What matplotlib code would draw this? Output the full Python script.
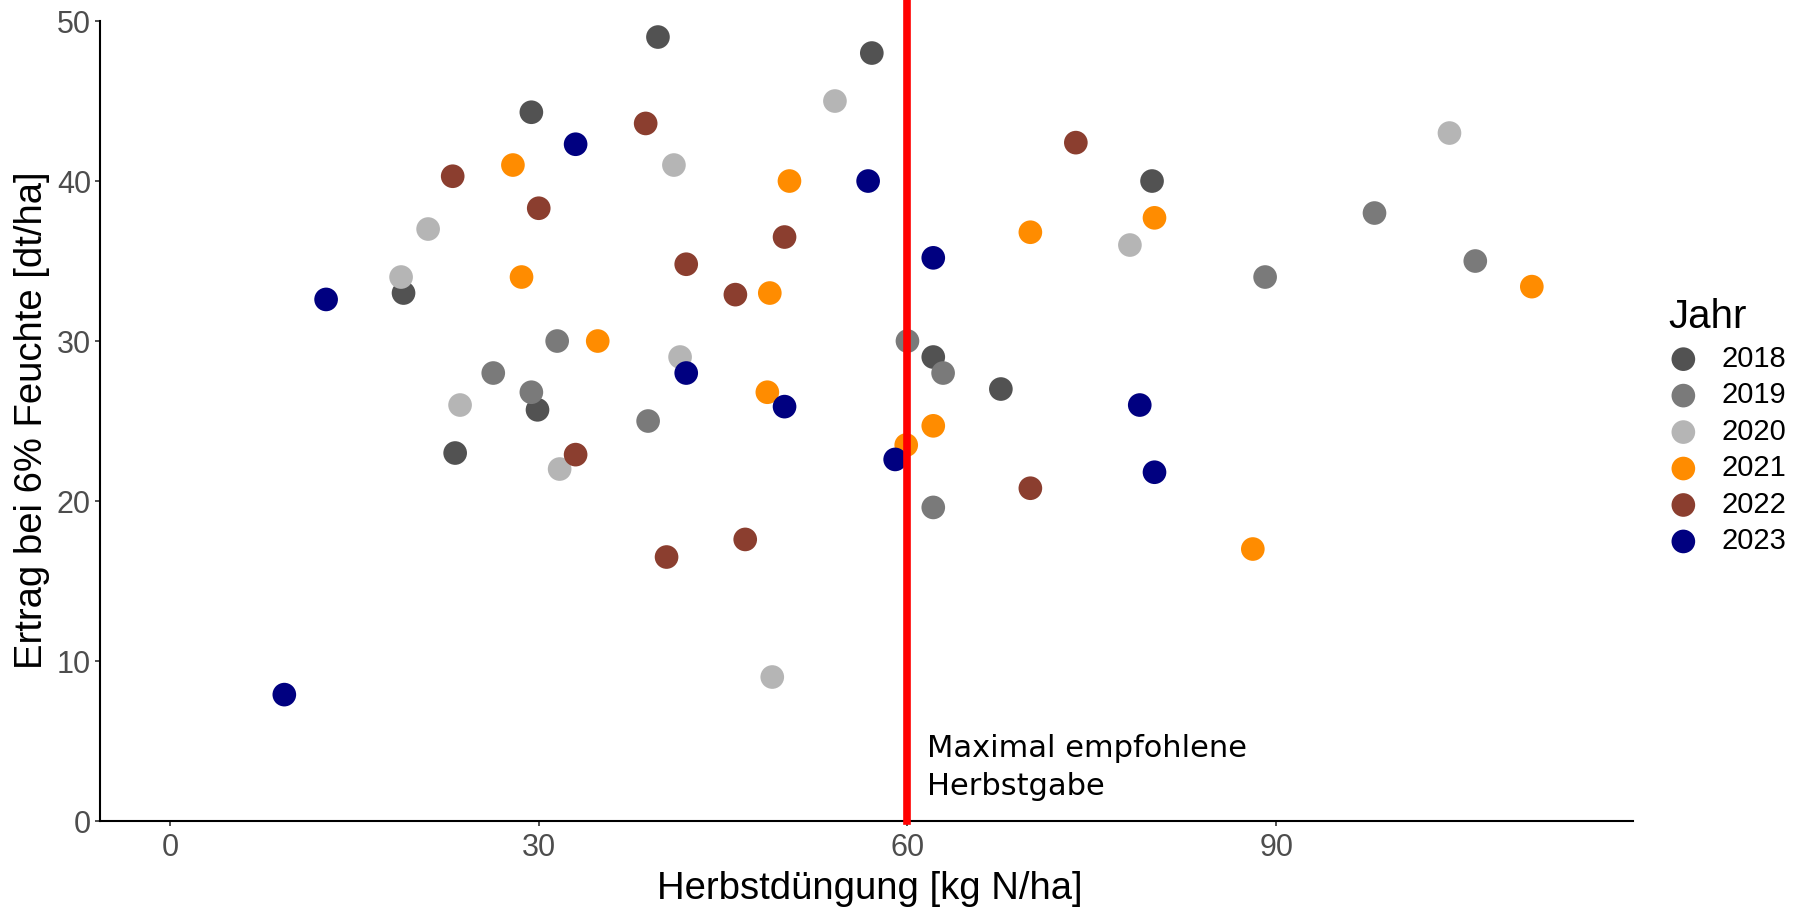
import matplotlib.pyplot as plt

# Herbstdüngung (kg N/ha) und Ertrag (dt/ha) je Standort, nach Jahr
jahre = ["2018", "2019", "2020", "2021", "2022", "2023"]
farben = ["#525252", "#7a7a7a", "#b5b5b5", "#ff8c00", "#8b3e2f", "#000080"]

n_2018 = [39.7, 57.1, 29.4, 79.9, 19.0, 29.9, 23.2, 62.1, 67.6]
e_2018 = [49.0, 48.0, 44.3, 40.0, 33.0, 25.7, 23.0, 29.0, 27.0]

n_2019 = [31.5, 26.3, 29.4, 38.9, 60.0, 62.9, 62.1, 98.0, 89.1, 106.2]
e_2019 = [30.0, 28.0, 26.8, 25.0, 30.0, 28.0, 19.6, 38.0, 34.0, 35.0]

n_2020 = [54.1, 41.0, 21.0, 18.8, 23.6, 41.5, 31.7, 49.0, 78.1, 104.1]
e_2020 = [45.0, 41.0, 37.0, 34.0, 26.0, 29.0, 22.0, 9.0, 36.0, 43.0]

n_2021 = [27.9, 50.4, 28.6, 34.8, 48.8, 48.6, 59.9, 62.1, 70.0, 80.1, 88.1, 110.8]
e_2021 = [41.0, 40.0, 34.0, 30.0, 33.0, 26.8, 23.5, 24.7, 36.8, 37.7, 17.0, 33.4]

n_2022 = [23.0, 38.7, 30.0, 42.0, 50.0, 46.0, 33.0, 40.4, 46.8, 73.7, 70.0]
e_2022 = [40.3, 43.6, 38.3, 34.8, 36.5, 32.9, 22.9, 16.5, 17.6, 42.4, 20.8]

n_2023 = [9.3, 12.7, 33.0, 56.8, 42.0, 50.0, 59.0, 62.1, 78.9, 80.1]
e_2023 = [7.9, 32.6, 42.3, 40.0, 28.0, 25.9, 22.6, 35.2, 26.0, 21.8]

n_werte = [n_2018, n_2019, n_2020, n_2021, n_2022, n_2023]
e_werte = [e_2018, e_2019, e_2020, e_2021, e_2022, e_2023]

max_herbstgabe = 60
x_ticks = [0, 30, 60, 90]
y_ticks = [0, 10, 20, 30, 40, 50]

plt.rcParams['font.family'] = ['Liberation Sans', 'DejaVu Sans']

fig = plt.figure(figsize=(18.01, 9.07), dpi=100)
ax = fig.add_axes([0.0555, 0.0948, 0.851, 0.882])

for jahr, farbe, xs, ys in zip(jahre, farben, n_werte, e_werte):
    ax.scatter(xs, ys, s=290, color=farbe, edgecolors='none', label=jahr, zorder=3)

# rote Linie reicht bis zum oberen Bildrand
ax.axvline(max_herbstgabe, ymin=0, ymax=1.03, color='#ff0000', linewidth=5.5,
           zorder=4, clip_on=False)
ax.text(max_herbstgabe + 1.55, 1.65, "Maximal empfohlene\nHerbstgabe",
        fontsize=22, family=['DejaVu Sans'], ha='left', va='baseline',
        linespacing=1.36, color='black', zorder=5)

ax.set_xlim(-5.7, 119)
ax.set_ylim(0, 50)
ax.set_xticks(x_ticks)
ax.set_yticks(y_ticks)
ax.tick_params(axis='both', labelsize=22, labelcolor='#4d4d4d', color='#333333',
               length=3.5, width=1.2)
ax.tick_params(axis='x', pad=5)
ax.tick_params(axis='y', pad=3)

for side in ['top', 'right']:
    ax.spines[side].set_visible(False)
for side in ['left', 'bottom']:
    ax.spines[side].set_linewidth(1.5)
    ax.spines[side].set_color('black')

fig.text(0.483, 1 - 899 / 907, "Herbstdüngung [kg N/ha]", fontsize=27.5,
         ha='center', va='baseline')
fig.text(42 / 1801, 0.5364, "Ertrag bei 6% Feuchte [dt/ha]", fontsize=27.5,
         rotation=90, rotation_mode='anchor', ha='center', va='baseline')

leg = fig.legend(loc='upper left', bbox_to_anchor=(0.912, 0.70), frameon=False,
                 title="Jahr", title_fontsize=29, fontsize=21,
                 handletextpad=0.8, labelspacing=0.29, markerscale=1.0,
                 handlelength=1.0)
leg._legend_box.align = "left"

fig.savefig("out.png", dpi=100)
